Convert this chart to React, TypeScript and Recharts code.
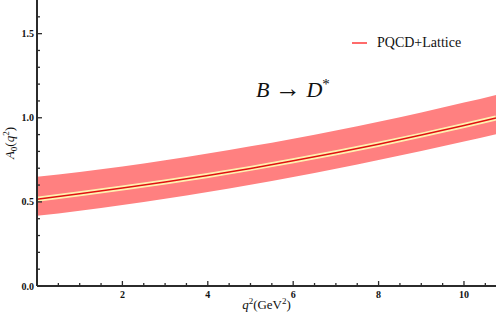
import React from "react";
import {
  ComposedChart,
  Area,
  Line,
  XAxis,
  YAxis,
  Label,
} from "recharts";

// q^2 grid (GeV^2) and A0(q^2)
const qSq = [0, 1, 2, 3, 4, 5, 6, 7, 8, 9, 10, 10.75];
const central = [0.516, 0.548, 0.582, 0.618, 0.657, 0.699, 0.744, 0.792, 0.843, 0.897, 0.954, 0.999];
const upper = [0.649, 0.677, 0.71, 0.747, 0.787, 0.83, 0.876, 0.925, 0.977, 1.032, 1.09, 1.136];
const lower = [0.417, 0.448, 0.482, 0.519, 0.559, 0.602, 0.648, 0.697, 0.749, 0.803, 0.859, 0.902];

const xTicks = [0.5, 1, 1.5, 2, 2.5, 3, 3.5, 4, 4.5, 5, 5.5, 6, 6.5, 7, 7.5, 8, 8.5, 9, 9.5, 10, 10.5];
const xMajor = [2, 4, 6, 8, 10];
const yTicks = [0, 0.1, 0.2, 0.3, 0.4, 0.5, 0.6, 0.7, 0.8, 0.9, 1, 1.1, 1.2, 1.3, 1.4, 1.5, 1.6];
const yMajor = [0, 0.5, 1, 1.5];

const seriesName = "PQCD+Lattice";

const data = qSq.map((q, i) => ({
  q,
  a0: central[i],
  band: [lower[i], upper[i]],
}));

const FONT = '"Liberation Serif", "Times New Roman", Times, serif';
const AXIS = "#2b2b2b";

function XTick({ x, y, payload, top }: any) {
  const major = xMajor.includes(payload.value);
  const len = major ? 5 : 3;
  return (
    <g>
      <line x1={x} x2={x} y1={y} y2={top ? y + len : y - len} stroke={AXIS} strokeWidth={1.3} />
      {!top && major && (
        <text x={x} y={y + 12} textAnchor="middle" fontSize={10} fontWeight="bold" style={{ fontFamily: FONT }} fill="#111">
          {payload.value}
        </text>
      )}
    </g>
  );
}

function YTick({ x, y, payload, right }: any) {
  const major = yMajor.some((m) => Math.abs(m - payload.value) < 1e-6);
  const len = major ? 5 : 3;
  return (
    <g>
      <line x1={x} x2={right ? x - len : x + len} y1={y} y2={y} stroke={AXIS} strokeWidth={1.3} />
      {!right && major && (
        <text x={x - 3} y={y + 3.5} textAnchor="end" fontSize={10} fontWeight="bold" style={{ fontFamily: FONT }} fill="#111">
          {payload.value.toFixed(1)}
        </text>
      )}
    </g>
  );
}

function XTitle({ viewBox }: any) {
  const cx = viewBox.x + viewBox.width / 2;
  return (
    <text x={cx} y={viewBox.y + 23} textAnchor="middle" fontSize={13} style={{ fontFamily: FONT }} fill="#111">
      <tspan fontStyle="italic">q</tspan>
      <tspan dy={-5} fontSize={9}>2</tspan>
      <tspan dy={5}>(GeV</tspan>
      <tspan dy={-5} fontSize={9}>2</tspan>
      <tspan dy={5}>)</tspan>
    </text>
  );
}

function YTitle() {
  const cx = 14;
  const cy = 143;
  return (
    <text
      x={cx}
      y={cy}
      transform={`rotate(-90, ${cx}, ${cy})`}
      textAnchor="middle"
      fontSize={13}
      style={{ fontFamily: FONT }}
      fill="#111"
    >
      <tspan fontStyle="italic">A</tspan>
      <tspan dy={3} fontSize={9}>0</tspan>
      <tspan dy={-3}>(</tspan>
      <tspan fontStyle="italic">q</tspan>
      <tspan dy={-5} fontSize={9}>2</tspan>
      <tspan dy={5}>)</tspan>
    </text>
  );
}

export default function App() {
  return (
    <div style={{ position: "absolute", left: 0, top: 0, width: 498, height: 321, background: "#fff" }}>
      <ComposedChart width={498} height={321} data={data} margin={{ top: 0, right: 2, bottom: 0, left: 0 }}>
        <XAxis
          dataKey="q"
          type="number"
          domain={[0, 10.75]}
          ticks={xTicks}
          interval={0}
          height={35}
          tickSize={0}
          tickMargin={0}
          tickLine={false}
          axisLine={{ stroke: AXIS, strokeWidth: 2 }}
          tick={<XTick />}
          allowDataOverflow
        >
          <Label content={<XTitle />} />
        </XAxis>
        <XAxis
          xAxisId="top"
          orientation="top"
          dataKey="q"
          type="number"
          domain={[0, 10.75]}
          ticks={xTicks}
          interval={0}
          height={0}
          tickSize={0}
          tickMargin={0}
          tickLine={false}
          axisLine={{ stroke: AXIS, strokeWidth: 2 }}
          tick={<XTick top />}
          allowDataOverflow
        />
        <YAxis
          type="number"
          domain={[0, 1.7]}
          ticks={yTicks}
          interval={0}
          width={37}
          tickSize={0}
          tickMargin={0}
          tickLine={false}
          axisLine={{ stroke: AXIS, strokeWidth: 2 }}
          tick={<YTick />}
          allowDataOverflow
        >
          <Label content={<YTitle />} />
        </YAxis>
        <YAxis
          yAxisId="right"
          orientation="right"
          type="number"
          domain={[0, 1.7]}
          ticks={yTicks}
          interval={0}
          width={0}
          tickSize={0}
          tickMargin={0}
          tickLine={false}
          axisLine={{ stroke: AXIS, strokeWidth: 2 }}
          tick={<YTick right />}
          allowDataOverflow
        />
        <Area
          type="monotone"
          dataKey="band"
          stroke="none"
          fill="#ff8080"
          fillOpacity={1}
          isAnimationActive={false}
        />
        <Line
          type="monotone"
          dataKey="a0"
          stroke="#fff2b0"
          strokeWidth={5}
          dot={false}
          isAnimationActive={false}
        />
        <Line
          type="monotone"
          dataKey="a0"
          stroke="#e01010"
          strokeWidth={1.5}
          dot={false}
          isAnimationActive={false}
          name={seriesName}
        />
      </ComposedChart>
      <div
        style={{
          position: "absolute",
          left: 351,
          top: 35,
          display: "flex",
          alignItems: "center",
          fontFamily: FONT,
          fontSize: 14,
          color: "#111",
          whiteSpace: "nowrap",
        }}
      >
        <svg width={22} height={10} style={{ marginRight: 4 }}>
          <line x1={1} x2={16} y1={5} y2={5} stroke="#ff6b6b" strokeWidth={2} />
        </svg>
        <span>{seriesName}</span>
      </div>
      <div
        style={{
          position: "absolute",
          left: 256,
          top: 74,
          fontFamily: FONT,
          fontStyle: "italic",
          fontSize: 22,
          color: "#111",
          whiteSpace: "nowrap",
        }}
      >
        B <span style={{ fontStyle: "normal", fontSize: 26 }}>→</span> D
        <sup style={{ fontSize: 15, fontStyle: "normal" }}>*</sup>
      </div>
    </div>
  );
}
